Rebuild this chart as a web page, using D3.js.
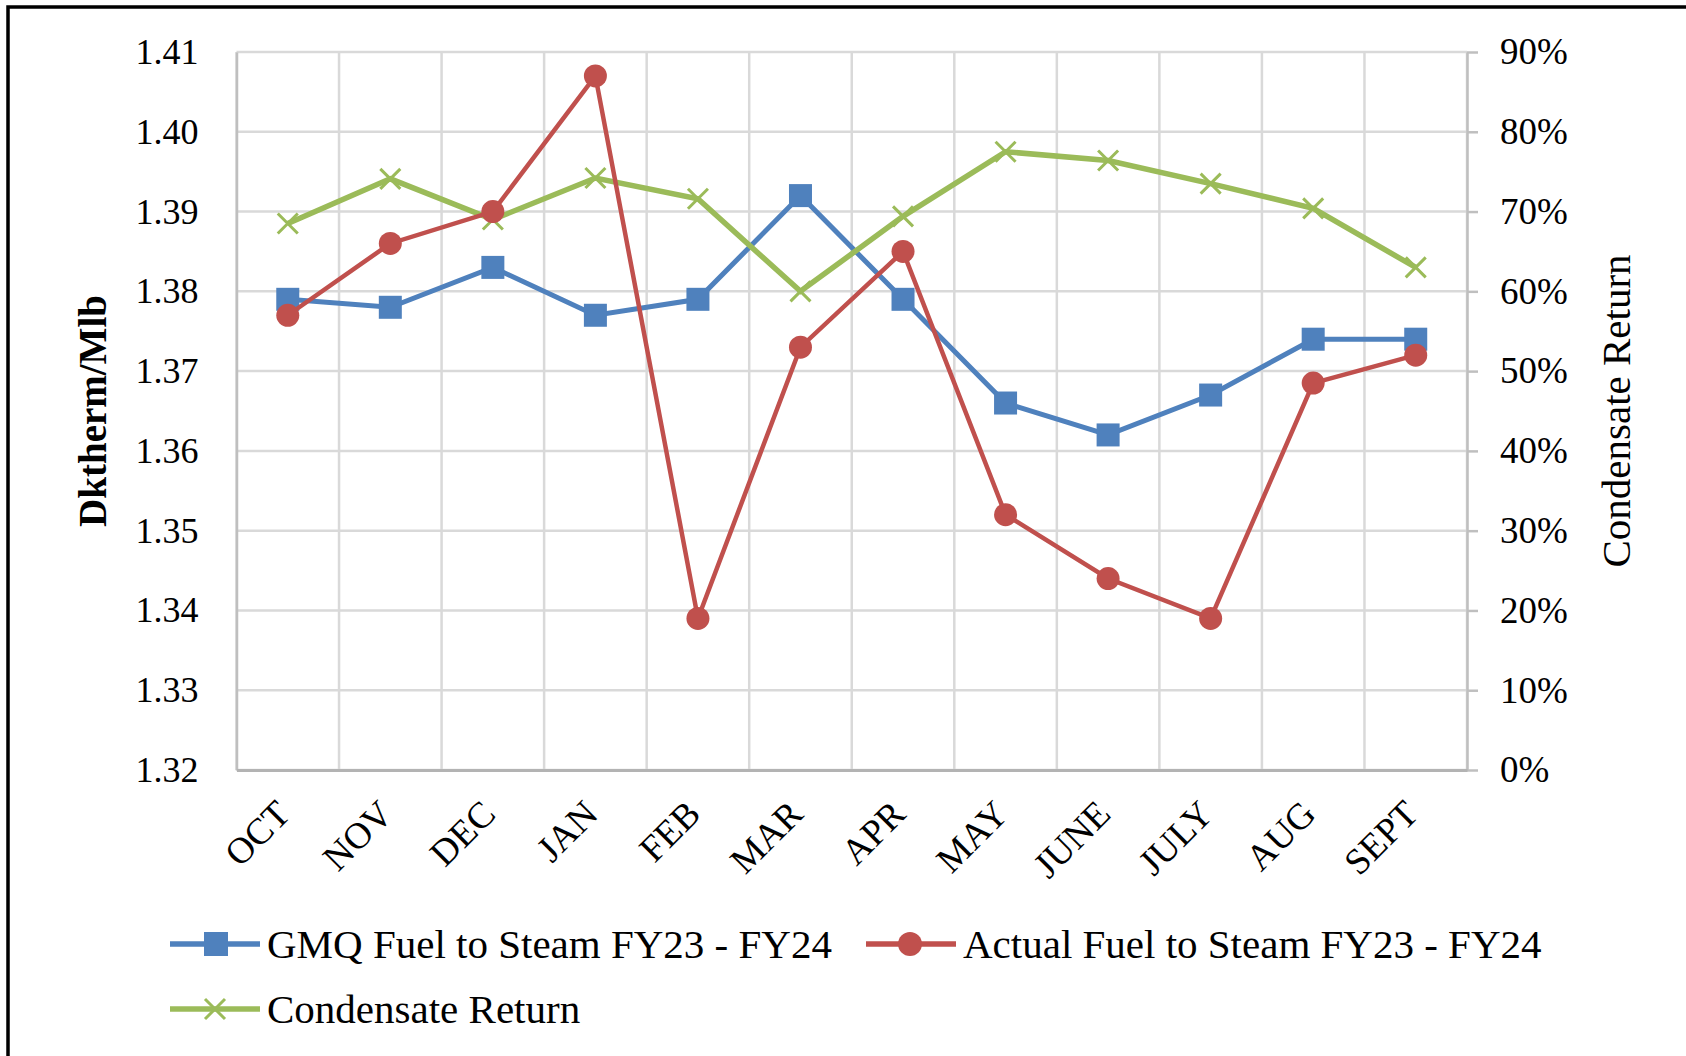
<!DOCTYPE html>
<html>
<head>
<meta charset="utf-8">
<script src="https://cdn.jsdelivr.net/npm/d3@7"></script>
<style>
  body { margin: 0; background: #fff; }
  svg text { font-family: "Liberation Serif", "Times New Roman", serif; fill: #000; }
</style>
</head>
<body>
<svg id="chart" width="1686" height="1056"></svg>
<script>
// chart data
var months = ["OCT", "NOV", "DEC", "JAN", "FEB", "MAR", "APR", "MAY", "JUNE", "JULY", "AUG", "SEPT"];
var gmqFuel = [1.379, 1.378, 1.383, 1.377, 1.379, 1.392, 1.379, 1.366, 1.362, 1.367, 1.374, 1.374];
var actualFuel = [1.377, 1.386, 1.390, 1.407, 1.339, 1.373, 1.385, 1.352, 1.344, 1.339, 1.3685, 1.372];
var condensate = [0.685, 0.741, 0.690, 0.742, 0.716, 0.600, 0.694, 0.775, 0.764, 0.735, 0.704, 0.630];
var leftTicks = [1.32, 1.33, 1.34, 1.35, 1.36, 1.37, 1.38, 1.39, 1.40, 1.41];
var rightTicks = [0, 0.1, 0.2, 0.3, 0.4, 0.5, 0.6, 0.7, 0.8, 0.9];
var seriesNames = ["GMQ Fuel to Steam FY23 - FY24", "Actual Fuel to Steam FY23 - FY24", "Condensate Return"];

var blue = "#4F81BD", red = "#C0504D", green = "#9BBB59";
var gridColor = "#D9D9D9", axisColor = "#BFBFBF";

// plot area box (window.top is reserved, so not "top")
var plotL = 236.5, plotR = 1467, plotT = 52, plotB = 770;

var svg = d3.select("#chart");

// outer frame (only top and left edges show in the picture)
svg.append("rect")
  .attr("x", 8).attr("y", 7)
  .attr("width", 1760).attr("height", 1120)
  .attr("fill", "none")
  .attr("stroke", "#000")
  .attr("stroke-width", 3.5);

var x = d3.scalePoint().domain(months).range([plotL, plotR]).padding(0.5);
var yL = d3.scaleLinear().domain([1.32, 1.41]).range([plotB, plotT]);
var yR = d3.scaleLinear().domain([0, 0.9]).range([plotB, plotT]);

// grid
var grid = svg.append("g");
grid.selectAll(".hgrid").data(leftTicks).enter().append("line")
  .attr("x1", plotL).attr("x2", plotR)
  .attr("y1", function(d) { return yL(d); })
  .attr("y2", function(d) { return yL(d); })
  .attr("stroke", gridColor).attr("stroke-width", 2.5);

var bounds = months.map(function(m) { return x(m) - x.step() / 2; });
bounds.push(plotR);
grid.selectAll(".vgrid").data(bounds).enter().append("line")
  .attr("x1", function(d) { return d; })
  .attr("x2", function(d) { return d; })
  .attr("y1", plotT).attr("y2", plotB)
  .attr("stroke", gridColor).attr("stroke-width", 2.5);

// left axis
var leftAxis = svg.append("g")
  .attr("transform", "translate(" + plotL + ",0)")
  .call(d3.axisLeft(yL).tickValues(leftTicks).tickFormat(d3.format(".2f")).tickSize(0).tickPadding(38));
leftAxis.select(".domain").attr("stroke", axisColor).attr("stroke-width", 2.5);
leftAxis.selectAll("text").attr("font-family", "Liberation Serif").attr("font-size", 36);

// right axis
var rightAxis = svg.append("g")
  .attr("transform", "translate(" + plotR + ",0)")
  .call(d3.axisRight(yR).tickValues(rightTicks).tickFormat(d3.format(".0%")).tickSize(11).tickSizeOuter(0).tickPadding(22));
rightAxis.select(".domain").attr("stroke", axisColor).attr("stroke-width", 2.5);
rightAxis.selectAll("line").attr("stroke", axisColor).attr("stroke-width", 2.5);
rightAxis.selectAll("text").attr("font-family", "Liberation Serif").attr("font-size", 37);

// bottom axis
var bottomAxis = svg.append("g")
  .attr("transform", "translate(0," + plotB + ")")
  .call(d3.axisBottom(x).tickSize(0).tickSizeOuter(0));
bottomAxis.select(".domain").attr("stroke", "#B3B3B3").attr("stroke-width", 3);
bottomAxis.selectAll("text")
  .attr("font-family", "Liberation Serif")
  .attr("font-size", 37)
  .attr("text-anchor", "end")
  .attr("y", 0).attr("dy", 0)
  .attr("transform", "translate(4,46) rotate(-45)");

// axis titles
svg.append("text")
  .attr("transform", "translate(106," + (plotT + plotB) / 2 + ") rotate(-90)")
  .attr("text-anchor", "middle")
  .attr("font-size", 39)
  .attr("font-weight", "bold")
  .text("Dktherm/Mlb");

svg.append("text")
  .attr("transform", "translate(1630," + (plotT + plotB) / 2 + ") rotate(-90)")
  .attr("text-anchor", "middle")
  .attr("font-size", 41)
  .text("Condensate Return");

// series lines
var lineL = d3.line().x(function(d, i) { return x(months[i]); }).y(function(d) { return yL(d); });
var lineR = d3.line().x(function(d, i) { return x(months[i]); }).y(function(d) { return yR(d); });

svg.append("path").datum(gmqFuel).attr("d", lineL)
  .attr("fill", "none").attr("stroke", blue).attr("stroke-width", 5);
svg.selectAll(".sq").data(gmqFuel).enter().append("rect")
  .attr("x", function(d, i) { return x(months[i]) - 11.5; })
  .attr("y", function(d) { return yL(d) - 11.5; })
  .attr("width", 23).attr("height", 23)
  .attr("fill", blue);

svg.append("path").datum(condensate).attr("d", lineR)
  .attr("fill", "none").attr("stroke", green).attr("stroke-width", 5.5);
var crossPath = "M-10,-10L10,10M-10,10L10,-10";
svg.selectAll(".cr").data(condensate).enter().append("path")
  .attr("transform", function(d, i) { return "translate(" + x(months[i]) + "," + yR(d) + ")"; })
  .attr("d", crossPath)
  .attr("stroke", green).attr("stroke-width", 3);

svg.append("path").datum(actualFuel).attr("d", lineL)
  .attr("fill", "none").attr("stroke", red).attr("stroke-width", 4.5);
svg.selectAll(".ci").data(actualFuel).enter().append("circle")
  .attr("cx", function(d, i) { return x(months[i]); })
  .attr("cy", function(d) { return yL(d); })
  .attr("r", 11.5)
  .attr("fill", red);

// legend
var legendItems = [
  {name: seriesNames[0], color: blue, mark: "square", x: 170, y: 944},
  {name: seriesNames[1], color: red, mark: "circle", x: 866, y: 944},
  {name: seriesNames[2], color: green, mark: "cross", x: 170, y: 1009}
];
var legend = svg.selectAll(".leg").data(legendItems).enter().append("g")
  .attr("transform", function(d) { return "translate(" + d.x + "," + d.y + ")"; });
legend.append("line")
  .attr("x1", 0).attr("x2", 90).attr("y1", 0).attr("y2", 0)
  .attr("stroke", function(d) { return d.color; })
  .attr("stroke-width", 5.5);
legend.each(function(d) {
  var g = d3.select(this);
  if (d.mark == "square") {
    g.append("rect").attr("x", 34).attr("y", -12).attr("width", 24).attr("height", 24).attr("fill", d.color);
  } else if (d.mark == "circle") {
    g.append("circle").attr("cx", 44).attr("cy", 0).attr("r", 12).attr("fill", d.color);
  } else {
    g.append("path").attr("transform", "translate(45,0)").attr("d", crossPath)
      .attr("stroke", d.color).attr("stroke-width", 3);
  }
});
legend.append("text")
  .attr("x", 97).attr("y", 14)
  .attr("font-size", 41)
  .text(function(d) { return d.name; });
</script>
</body>
</html>
